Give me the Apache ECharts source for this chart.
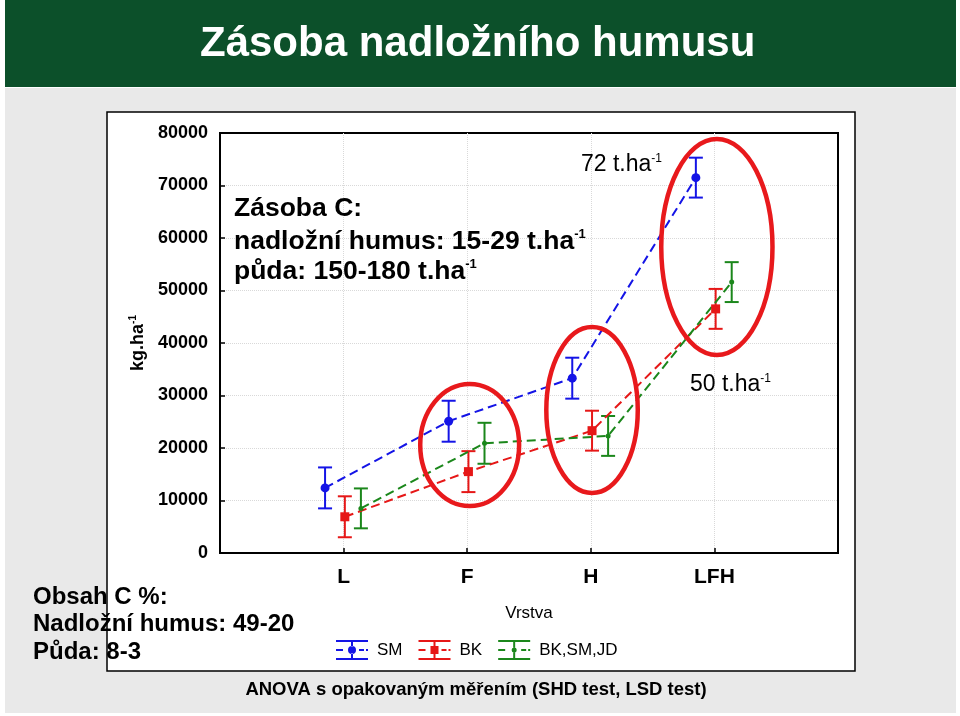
<!DOCTYPE html>
<html>
<head>
<meta charset="utf-8">
<script src="https://cdn.jsdelivr.net/npm/echarts@6.0.0/dist/echarts.min.js"></script>
<style>
html,body{margin:0;padding:0;background:#fff;}
#c{width:960px;height:716px;}
</style>
</head>
<body>
<div id="c"></div>
<script>
// ---- data ----
const categories = ['L', 'F', 'H', 'LFH'];
const seriesNames = ['SM', 'BK', 'BK,SM,JD'];
const smMean  = [12400, 25100, 33300, 71500];
const smErr   = [3900, 3900, 3900, 3800];
const bkMean  = [6900, 15500, 23300, 46500];
const bkErr   = [3900, 3900, 3800, 3800];
const mixMean = [8500, 20900, 22300, 51600];
const mixErr  = [3800, 3900, 3800, 3800];
const yMin = 0, yMax = 80000, yStep = 10000;
// highlighted groups (annotation rings, data units: x, y, half-width, half-height)
const ringX  = [2.02, 3.01, 4.02];
const ringY  = [20570, 27240, 58290];
const ringRx = [0.40, 0.37, 0.45];
const ringRy = [11620, 15810, 20570];

// ---- layout / style ----
const FONT = "'Liberation Sans', Arial, sans-serif";
const colors = {SM: '#1414e6', BK: '#e61717', 'BK,SM,JD': '#1b871b'};
const offsets = {SM: -0.15, BK: 0.01, 'BK,SM,JD': 0.14};
const symbols = {SM: ['circle', 9], BK: ['rect', 9], 'BK,SM,JD': ['circle', 5]};
const means = {SM: smMean, BK: bkMean, 'BK,SM,JD': mixMean};
const errs = {SM: smErr, BK: bkErr, 'BK,SM,JD': mixErr};

const iconBase = 'M0 0H32V2H0Z M0 18H32V20H0Z M0 9H7V11H0Z M23 9H28V11H23Z M30 9H32V11H30Z ';
const icons = {
  SM: 'path://' + iconBase + 'M15 2H17V6.5H15Z M15 13.5H17V18H15Z M12 10a4 4 0 1 0 8 0a4 4 0 1 0 -8 0Z',
  BK: 'path://' + iconBase + 'M15 2H17V6H15Z M15 14H17V18H15Z M12 6H20V14H12Z',
  'BK,SM,JD': 'path://' + iconBase + 'M15 2H17V7.5H15Z M15 12.5H17V18H15Z M13.5 10a2.5 2.5 0 1 0 5 0a2.5 2.5 0 1 0 -5 0Z'
};

function pts(name) {
  return categories.map((c, i) => [i + 1 + offsets[name], means[name][i], errs[name][i]]);
}

function renderErr(params, api) {
  const x = api.value(0), y = api.value(1), e = api.value(2);
  const t = api.coord([x, y + e]), b = api.coord([x, y - e]);
  const hw = 7, col = api.visual('color');
  const st = {stroke: col, lineWidth: 2};
  return {type: 'group', children: [
    {type: 'line', shape: {x1: t[0], y1: t[1], x2: b[0], y2: b[1]}, style: st},
    {type: 'line', shape: {x1: t[0] - hw, y1: t[1], x2: t[0] + hw, y2: t[1]}, style: st},
    {type: 'line', shape: {x1: b[0] - hw, y1: b[1], x2: b[0] + hw, y2: b[1]}, style: st}
  ]};
}

function renderRing(params, api) {
  const c = api.coord([api.value(0), api.value(1)]);
  const s = api.size([api.value(2), api.value(3)]);
  return {type: 'ellipse', shape: {cx: c[0], cy: c[1], rx: s[0], ry: s[1]},
          style: {fill: 'none', stroke: '#e8191c', lineWidth: 4.5}};
}

const series = [];
seriesNames.forEach(n => {
  series.push({
    name: n, type: 'line', data: pts(n).map(p => [p[0], p[1]]),
    symbol: symbols[n][0], symbolSize: symbols[n][1],
    itemStyle: {color: colors[n]},
    lineStyle: {color: colors[n], width: 2, type: [9, 5]},
    z: 4, silent: true
  });
  series.push({
    name: n, type: 'custom', data: pts(n), renderItem: renderErr,
    encode: {x: 0, y: 1}, itemStyle: {color: colors[n]}, z: 3, silent: true
  });
});
series.push({
  name: 'rings', type: 'custom', renderItem: renderRing,
  data: ringX.map((x, i) => [x, ringY[i], ringRx[i], ringRy[i]]),
  encode: {x: 0, y: 1}, z: 5, silent: true, clip: false
});

const supRich = (size, color, weight, ratio) => ({
  m: {fontSize: size, fontWeight: weight, color: color, fontFamily: FONT, lineHeight: size * 1.1},
  s: {fontSize: Math.round(size * (ratio || 0.5)), fontWeight: weight, color: color, fontFamily: FONT, verticalAlign: 'top', lineHeight: size * 1.1}
});

function txt(x, y, text, size, weight, color, align) {
  return {
    type: 'text', x: x, y: y, z: 100,
    style: {text: text, fontSize: size, fontWeight: weight, fill: color, fontFamily: FONT,
            align: align || 'left', verticalAlign: 'middle'}
  };
}
function richTxt(x, y, text, size, weight, color, ratio) {
  return {type: 'text', x: x, y: y, z: 100,
    style: {text: text, rich: supRich(size, color, weight, ratio), align: 'left', verticalAlign: 'middle'}};
}

const option = {
  animation: false,
  textStyle: {fontFamily: FONT},
  grid: {left: 220, top: 133, width: 618, height: 420, show: true, borderColor: '#000', borderWidth: 2, backgroundColor: '#fff'},
  xAxis: {
    type: 'value', min: 0, max: 5, interval: 1,
    name: 'Vrstva', nameLocation: 'middle', nameGap: 52,
    nameTextStyle: {fontSize: 17, color: '#000', fontFamily: FONT},
    axisLine: {lineStyle: {color: '#000', width: 2}},
    axisTick: {inside: true, length: 5, lineStyle: {color: '#000', width: 1.5}},
    axisLabel: {formatter: v => categories[v - 1] || '', fontSize: 21, fontWeight: 'bold', color: '#000', margin: 14, fontFamily: FONT},
    splitLine: {show: true, showMinLine: false, showMaxLine: false, lineStyle: {color: '#d9d9d9', type: 'dotted', width: 1}}
  },
  yAxis: {
    type: 'value', min: yMin, max: yMax, interval: yStep,
    name: '{m|kg.ha}{s|-1}', nameLocation: 'middle', nameGap: 72, nameRotate: 90,
    nameTextStyle: {rich: supRich(18, '#000', 'bold', 0.55)},
    axisLine: {show: true, lineStyle: {color: '#000', width: 2}},
    axisTick: {show: true, inside: true, length: 5, lineStyle: {color: '#000', width: 1.5}},
    axisLabel: {formatter: v => String(v), fontSize: 18, fontWeight: 'bold', color: '#000', margin: 12, fontFamily: FONT},
    splitLine: {show: true, showMinLine: false, showMaxLine: false, lineStyle: {color: '#d9d9d9', type: 'dotted', width: 1}}
  },
  legend: {
    left: 336, top: 640, padding: 0, itemWidth: 32, itemHeight: 20, itemGap: 16,
    data: seriesNames.map(n => ({name: n, icon: icons[n], itemStyle: {color: colors[n]}})),
    textStyle: {fontSize: 17, color: '#000', fontFamily: FONT, padding: [0, 0, 0, 4]},
    selectedMode: false
  },
  graphic: [
    {type: 'rect', z: -100, shape: {x: 5, y: 0, width: 951, height: 87}, style: {fill: '#0c502a'}},
    {type: 'rect', z: -100, shape: {x: 5, y: 88, width: 951, height: 625}, style: {fill: '#e9e9e9'}},
    {type: 'rect', z: -90, shape: {x: 107, y: 112, width: 748, height: 559}, style: {fill: '#fff', stroke: '#000', lineWidth: 1.5}},
    txt(200, 44, 'Zásoba nadložního humusu', 42, 'bold', '#fff'),
    txt(234, 209, 'Zásoba C:', 26.5, 'bold', '#000'),
    richTxt(234, 242, '{m|nadložní humus: 15-29 t.ha}{s|-1}', 26.5, 'bold', '#000', 0.48),
    richTxt(234, 272, '{m|půda: 150-180 t.ha}{s|-1}', 26.5, 'bold', '#000', 0.48),
    richTxt(581, 165, '{m|72 t.ha}{s|-1}', 23, 'normal', '#363690', 0.5),
    richTxt(690, 385, '{m|50 t.ha}{s|-1}', 23, 'normal', '#d62323', 0.5),
    txt(33, 597, 'Obsah C %:', 24, 'bold', '#000'),
    txt(33, 624, 'Nadložní humus: 49-20', 24, 'bold', '#000'),
    txt(33, 652, 'Půda: 8-3', 24, 'bold', '#000'),
    txt(476, 690, 'ANOVA s opakovaným měřením (SHD test, LSD test)', 18.5, 'bold', '#000', 'center')
  ],
  series: series
};

const chart = echarts.init(document.getElementById('c'), null, {renderer: 'canvas', width: 960, height: 716});
chart.setOption(option);
</script>
</body>
</html>
